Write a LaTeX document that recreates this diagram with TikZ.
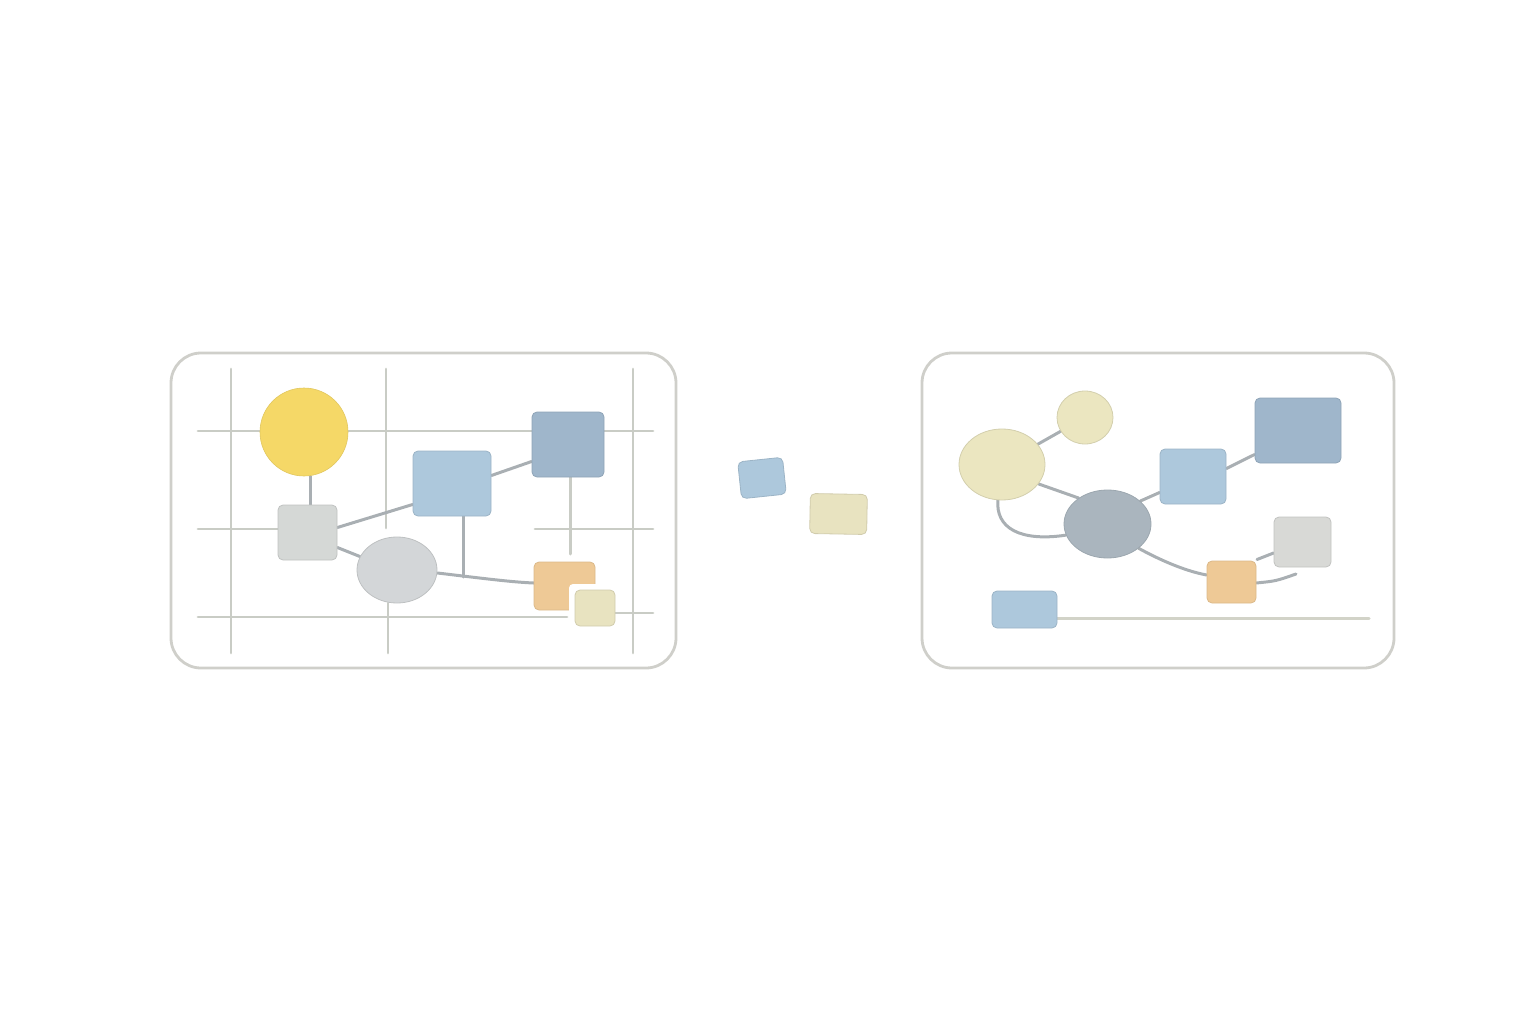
\documentclass[tikz,border=0pt]{standalone}
\usetikzlibrary{shapes.geometric,calc,backgrounds}
\definecolor{frameC}{HTML}{CFCFCA}
\definecolor{gridC}{HTML}{C9CCC5}
\definecolor{lineC}{HTML}{A9AFB3}
\definecolor{yelC}{HTML}{F5D867}
\definecolor{gboxC}{HTML}{D5D8D6}
\definecolor{lbC}{HTML}{ADC8DC}
\definecolor{dbC}{HTML}{9FB6CB}
\definecolor{ellC}{HTML}{D3D6D8}
\definecolor{orC}{HTML}{EEC996}
\definecolor{pyC}{HTML}{E8E3C0}
\definecolor{ryC}{HTML}{EBE6C0}
\definecolor{geC}{HTML}{AAB5BE}
\definecolor{rgC}{HTML}{D8D9D6}
\definecolor{bottomLine}{HTML}{D2D3C8}
\tikzset{
  frame/.style={draw=frameC, line width=2.8pt, rounded corners=30pt},
  gridl/.style={draw=gridC, line width=2.8pt, line cap=round},
  conn/.style={draw=lineC, line width=3pt, line cap=round},
  boxn/.style={rectangle, rounded corners=5pt, inner sep=0pt, line width=0.8pt},
  elln/.style={ellipse, inner sep=0pt, line width=0.8pt},
}
\begin{document}
\begin{tikzpicture}[x=1pt,y=-1pt]
\useasboundingbox (0,0) rectangle (1536,1024);
% ---------- left panel nodes ----------
\node[circle, inner sep=0pt, minimum size=88pt, fill=yelC, draw=yelC!92!black, line width=0.6pt] (circ) at (304,432) {};
\node[boxn, fill=gboxC, draw=gboxC!90!black, minimum width=59pt, minimum height=55pt] (gbox) at (307.5,532.5) {};
\node[boxn, fill=lbC, draw=lbC!90!black, minimum width=78pt, minimum height=65pt] (lb) at (452,483.5) {};
\node[boxn, fill=dbC, draw=dbC!90!black, minimum width=72pt, minimum height=65pt] (db) at (568,444.5) {};
\node[elln, fill=ellC, draw=ellC!90!black, minimum width=80pt, minimum height=66pt] (ell) at (397,570) {};
\node[boxn, fill=orC, draw=orC!92!black, minimum width=61pt, minimum height=48pt] (orng) at (564.5,586) {};
\fill[white, rounded corners=4pt] (569,584) rectangle (603,616);
\node[boxn, fill=pyC, draw=pyC!90!black, minimum width=40pt, minimum height=36pt] (sy) at (595,608) {};
% ---------- middle ----------
\node[boxn, fill=lbC, draw=lbC!90!black, minimum width=45pt, minimum height=37pt, rotate=6] (mb) at (762,478) {};
\node[boxn, fill=pyC, draw=pyC!90!black, minimum width=57pt, minimum height=40pt, rotate=-1] (my) at (838.5,514) {};
% ---------- right panel nodes ----------
\node[elln, fill=ryC, draw=ryC!90!black, minimum width=56pt, minimum height=53pt] (sc) at (1085,417.5) {};
\node[elln, fill=ryC, draw=ryC!90!black, minimum width=86pt, minimum height=71pt] (le) at (1002,464.5) {};
\node[elln, fill=geC, draw=geC!92!black, minimum width=87pt, minimum height=68pt] (ge) at (1107.5,524) {};
\node[boxn, fill=lbC, draw=lbC!90!black, minimum width=66pt, minimum height=55pt] (rlb) at (1193,476.5) {};
\node[boxn, fill=dbC, draw=dbC!90!black, minimum width=86pt, minimum height=65pt] (rdb) at (1298,430.5) {};
\node[boxn, fill=rgC, draw=rgC!90!black, minimum width=57pt, minimum height=50pt] (rg) at (1302.5,542) {};
\node[boxn, fill=orC, draw=orC!92!black, minimum width=49pt, minimum height=42pt] (ro) at (1231.5,582) {};
\node[boxn, fill=lbC, draw=lbC!90!black, minimum width=65pt, minimum height=37pt] (rb) at (1024.5,609.5) {};
\coordinate (dbend) at (570,554);
\coordinate (lbend) at (463,577);
\coordinate (roend) at (1296,574);
\coordinate (rgend) at (1257,559.5);
\coordinate (rbend) at (1369,618);
\begin{scope}[on background layer]
  % frames
  \draw[frame] (171,353) rectangle (676,668);
  \draw[frame] (922,353) rectangle (1394,668);
  % grid
  \draw[gridl] (231,369) -- (231,653);
  \draw[gridl] (386,369) -- (386,528);
  \draw[gridl] (388,603) -- (388,653);
  \draw[gridl] (633,369) -- (633,653);
  \draw[gridl] (198,431) -- (653,431);
  \draw[gridl] (198,529) -- (278,529);
  \draw[gridl] (535,529) -- (653,529);
  \draw[gridl] (198,617) -- (567,617);
  \draw[gridl] (615,613) -- (653,613);
  % left connectors
  \draw[conn] ($(circ.south)+(6,0)$) -- ($(gbox.north)+(2.5,0)$);
  \draw[conn] ($(gbox.east)+(0,-5)$) -- ($(lb.west)+(0,21)$);
  \draw[conn] ($(lb.east)+(0,-8)$) -- ($(db.west)+(0,17)$);
  \draw[conn, draw=gridC] ($(db.south)+(2,0)$) -- (dbend);
  \draw[conn] ($(gbox.east)+(0,15)$) -- (ell.160);
  \draw[conn] ($(ell.east)+(0,3)$) .. controls (480,578) and (510,582) .. ($(orng.west)+(0,-3)$);
  \draw[conn] ($(lb.south)+(11,0)$) -- (lbend);
  % right connectors
  \draw[conn] (le) -- (sc);
  \draw[conn] (le.-28) -- (ge.138);
  \draw[conn] ($(le.south)+(-4,-1)$) .. controls (995,528) and (1020,542) .. (ge.195);
  \draw[conn] (ge.35) -- ($(rlb.west)+(0,16)$);
  \draw[conn] ($(rlb.east)+(0,-8)$) -- ($(rdb.west)+(0,24)$);
  \draw[conn] (ge.-38) .. controls (1160,560) and (1185,571) .. ($(ro.west)+(0,-7)$);
  \draw[conn] ($(ro.east)+(0,1)$) .. controls (1276,581) .. (roend);
  \draw[conn] ($(rg.west)+(0,11)$) -- (rgend);
  \draw[conn, draw=bottomLine] ($(rb.east)+(0,8.5)$) -- (rbend);
\end{scope}
\end{tikzpicture}
\end{document}
